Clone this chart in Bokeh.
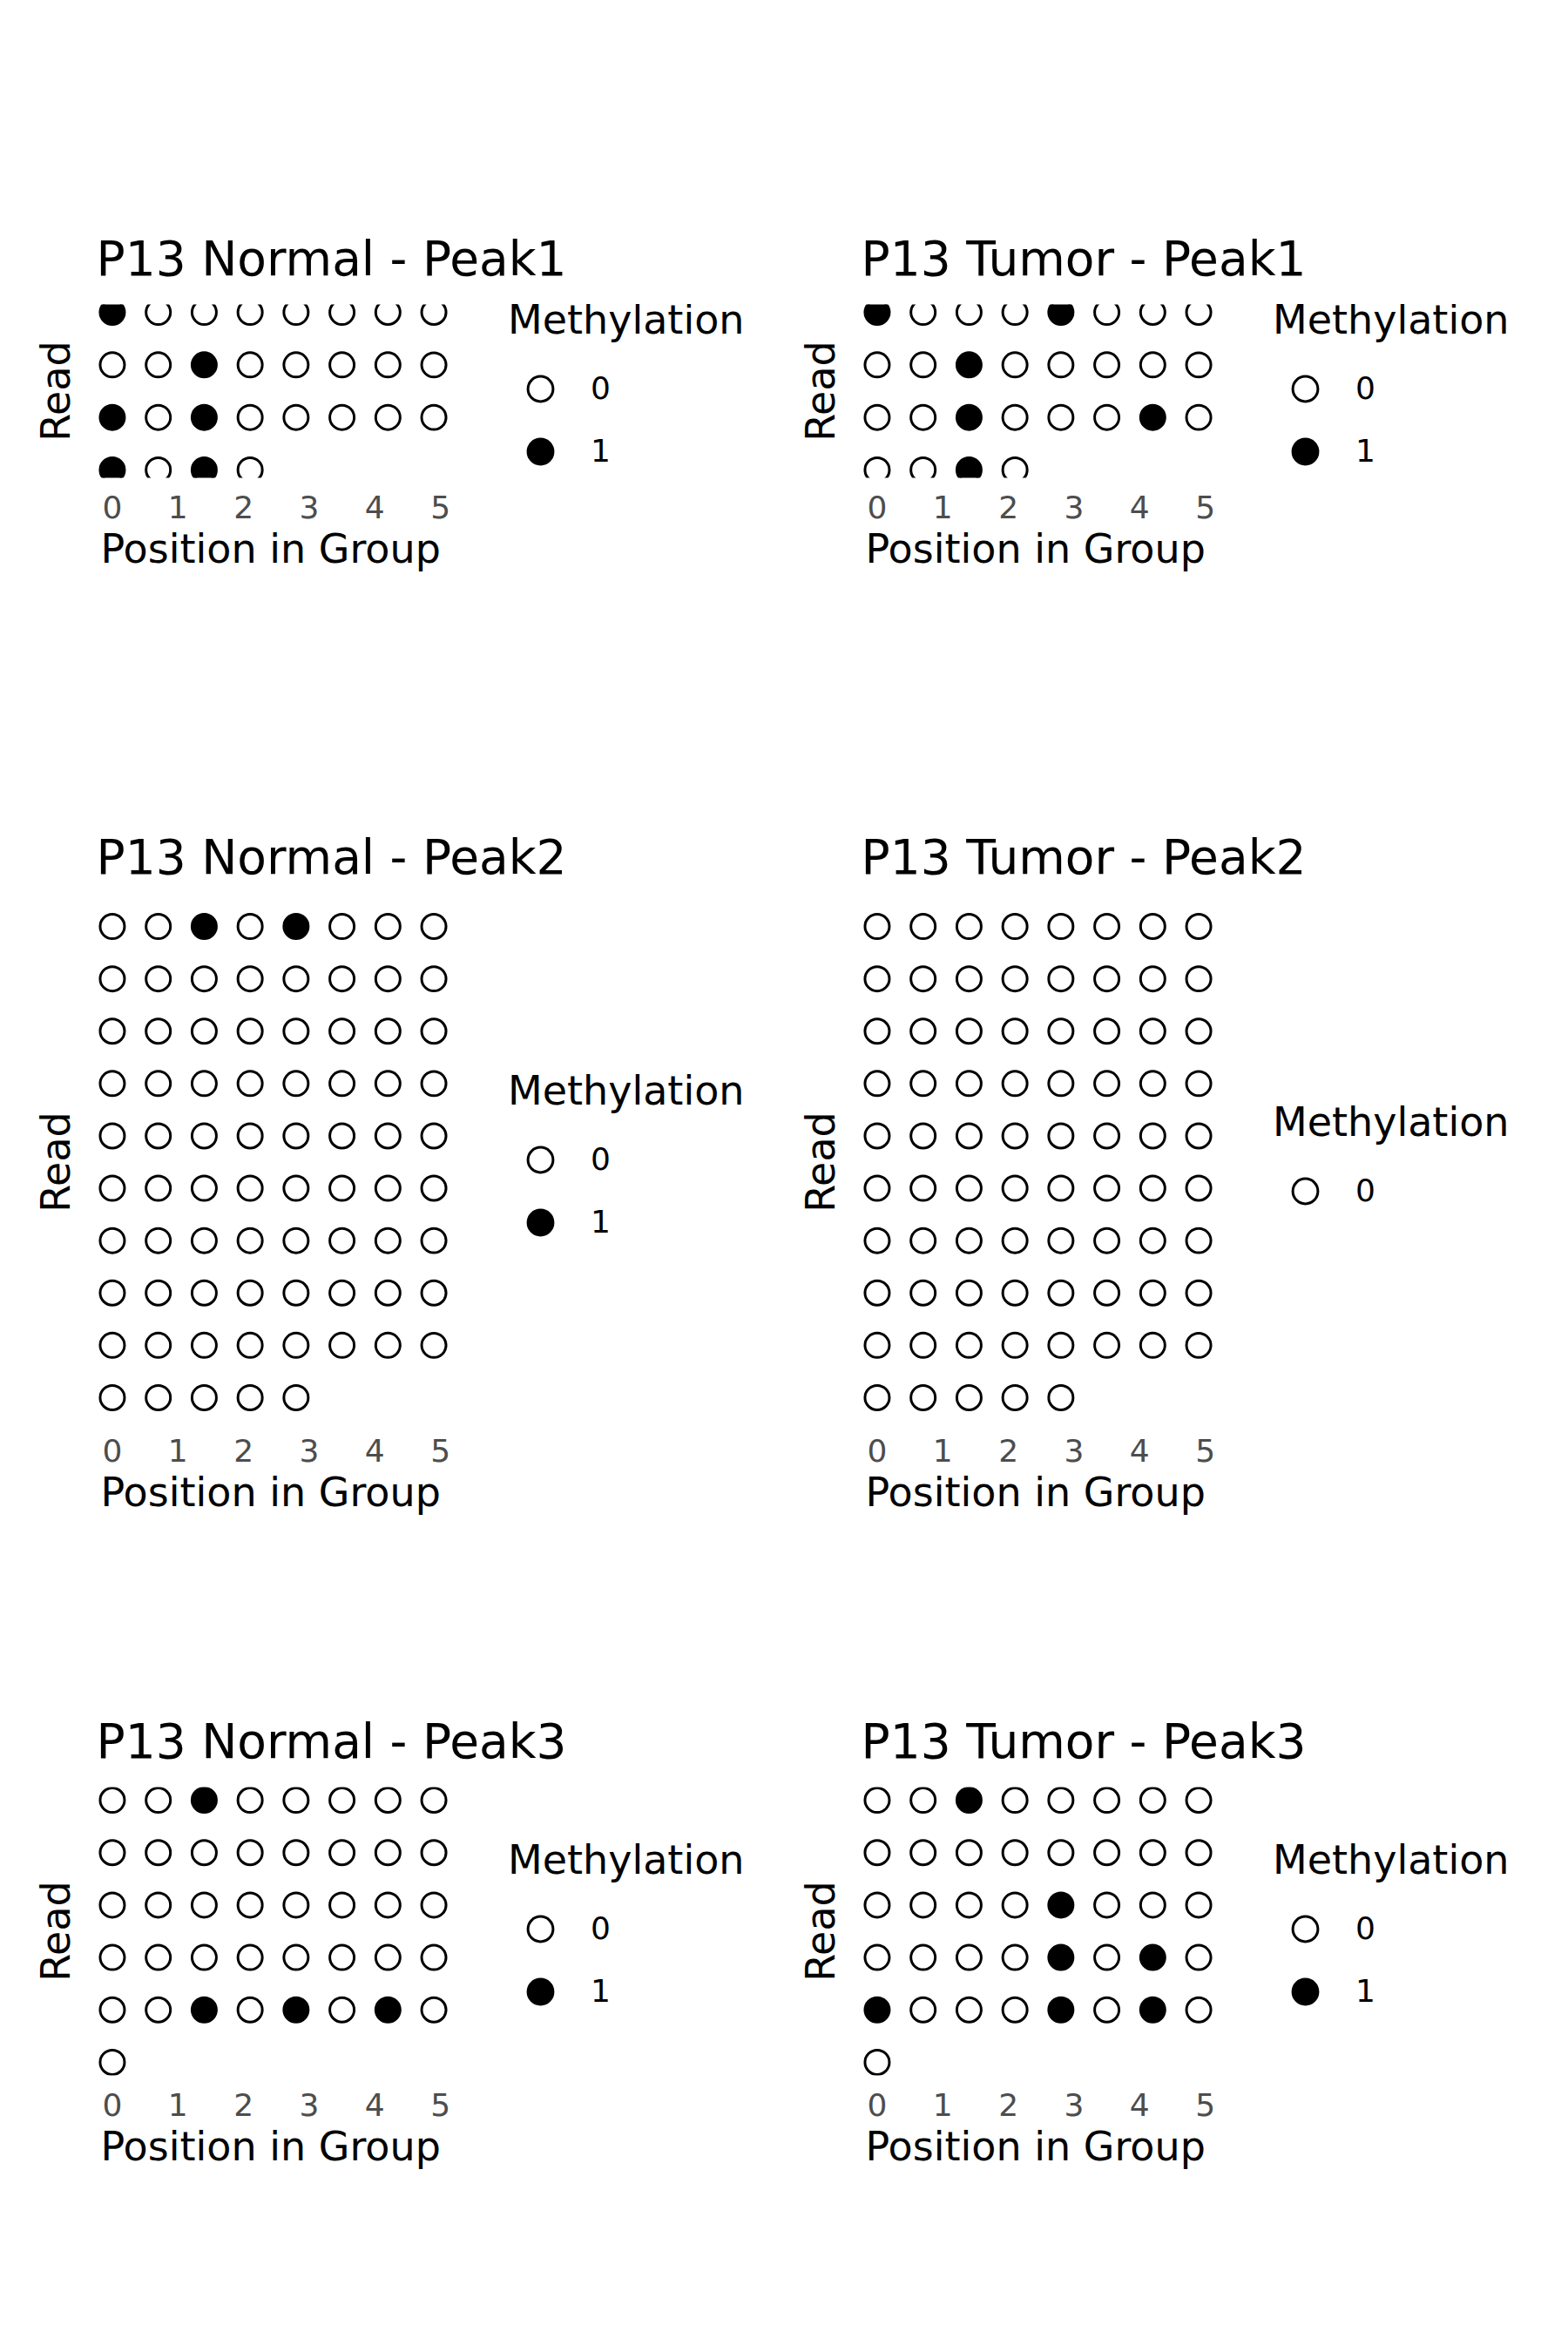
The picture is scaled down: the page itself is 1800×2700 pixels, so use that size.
from bokeh.plotting import figure
from bokeh.models import ColumnDataSource, Range1d, FixedTicker, Legend, LegendItem, Title
from bokeh.layouts import column, row
from bokeh.embed import file_html
from bokeh.resources import INLINE

# ---------------- data ----------------
positions = [0.0, 0.7, 1.4, 2.1, 2.8, 3.5, 4.2, 4.9]   # position in group of each CpG column
x_ticks = [0, 1, 2, 3, 4, 5]
methylation_levels = ["0", "1"]

normal_peak1 = [
    [1, 0, 0, 0, 0, 0, 0, 0],
    [0, 0, 1, 0, 0, 0, 0, 0],
    [1, 0, 1, 0, 0, 0, 0, 0],
    [1, 0, 1, 0],
]
tumor_peak1 = [
    [1, 0, 0, 0, 1, 0, 0, 0],
    [0, 0, 1, 0, 0, 0, 0, 0],
    [0, 0, 1, 0, 0, 0, 1, 0],
    [0, 0, 1, 0],
]
normal_peak2 = [
    [0, 0, 1, 0, 1, 0, 0, 0],
    [0, 0, 0, 0, 0, 0, 0, 0],
    [0, 0, 0, 0, 0, 0, 0, 0],
    [0, 0, 0, 0, 0, 0, 0, 0],
    [0, 0, 0, 0, 0, 0, 0, 0],
    [0, 0, 0, 0, 0, 0, 0, 0],
    [0, 0, 0, 0, 0, 0, 0, 0],
    [0, 0, 0, 0, 0, 0, 0, 0],
    [0, 0, 0, 0, 0, 0, 0, 0],
    [0, 0, 0, 0, 0],
]
tumor_peak2 = [
    [0, 0, 0, 0, 0, 0, 0, 0],
    [0, 0, 0, 0, 0, 0, 0, 0],
    [0, 0, 0, 0, 0, 0, 0, 0],
    [0, 0, 0, 0, 0, 0, 0, 0],
    [0, 0, 0, 0, 0, 0, 0, 0],
    [0, 0, 0, 0, 0, 0, 0, 0],
    [0, 0, 0, 0, 0, 0, 0, 0],
    [0, 0, 0, 0, 0, 0, 0, 0],
    [0, 0, 0, 0, 0, 0, 0, 0],
    [0, 0, 0, 0, 0],
]
normal_peak3 = [
    [0, 0, 1, 0, 0, 0, 0, 0],
    [0, 0, 0, 0, 0, 0, 0, 0],
    [0, 0, 0, 0, 0, 0, 0, 0],
    [0, 0, 0, 0, 0, 0, 0, 0],
    [0, 0, 1, 0, 1, 0, 1, 0],
    [0],
]
tumor_peak3 = [
    [0, 0, 1, 0, 0, 0, 0, 0],
    [0, 0, 0, 0, 0, 0, 0, 0],
    [0, 0, 0, 0, 1, 0, 0, 0],
    [0, 0, 0, 0, 1, 0, 1, 0],
    [1, 0, 0, 0, 1, 0, 1, 0],
    [0],
]

titles = [
    ["P13 Normal - Peak1", "P13 Tumor - Peak1"],
    ["P13 Normal - Peak2", "P13 Tumor - Peak2"],
    ["P13 Normal - Peak3", "P13 Tumor - Peak3"],
]
reads_grid = [
    [normal_peak1, tumor_peak1],
    [normal_peak2, tumor_peak2],
    [normal_peak3, tumor_peak3],
]

# ---------------- layout / style ----------------
FONT = "DejaVu Sans"
DOT_AREA_W = 406                 # width in px of the dotted area (data span + 5% padding)
frame_widths = [768, 812]        # frame also hosts the legend to the right of the dots
frame_heights = [199, 595, 331]
border_top = [349, 236, 201]
border_bottom = [252, 219, 310]
border_left = 110
LEGEND_GAP = 67


def make_panel(title, reads, fw, fh, bt, bb):
    n = len(reads)
    xs = {"0": [], "1": []}
    ys = {"0": [], "1": []}
    for r, read in enumerate(reads, start=1):
        for j, m in enumerate(read):
            xs[str(m)].append(positions[j])
            ys[str(m)].append(r)
    pad_y = 0.05 * (n - 1)
    pad_x = 0.05 * (positions[-1] - positions[0])
    x0 = positions[0] - pad_x
    units_per_px = (positions[-1] + pad_x - x0) / DOT_AREA_W
    p = figure(
        frame_width=fw, frame_height=fh,
        x_range=Range1d(x0, x0 + fw * units_per_px),
        y_range=Range1d(n + pad_y, 1 - pad_y),
        output_backend="svg", toolbar_location=None, title=title,
        min_border_left=border_left, min_border_right=0,
        min_border_top=bt, min_border_bottom=bb,
    )
    p.outline_line_color = None
    p.background_fill_color = "white"
    p.border_fill_color = "white"
    p.xgrid.visible = False
    p.ygrid.visible = False

    p.title.text_font = FONT
    p.title.text_font_size = "55px"
    p.title.text_font_style = "normal"
    p.title.text_color = "black"
    p.title.align = "left"
    p.title.standoff = 42

    xa = p.xaxis[0]
    xa.ticker = FixedTicker(ticks=x_ticks)
    xa.axis_line_color = None
    xa.major_tick_line_color = None
    xa.minor_tick_line_color = None
    xa.major_tick_out = 0
    xa.major_tick_in = 0
    xa.major_label_text_font = FONT
    xa.major_label_text_font_size = "36px"
    xa.major_label_text_color = "#4D4D4D"
    xa.major_label_standoff = 20
    xa.axis_label = None

    # x-axis title, left-aligned under the dotted area (centred on it)
    x_title = Title(text="Position in Group", align="left", offset=5,
                    vertical_align="top", standoff=10,
                    text_font=FONT, text_font_size="46px",
                    text_font_style="normal", text_color="black")
    p.add_layout(x_title, "below")

    ya = p.yaxis[0]
    ya.ticker = FixedTicker(ticks=[])
    ya.axis_line_color = None
    ya.major_tick_line_color = None
    ya.minor_tick_line_color = None
    ya.major_tick_out = 0
    ya.major_tick_in = 0
    ya.major_label_text_font_size = "0px"
    ya.axis_label = "Read"
    ya.axis_label_text_font = FONT
    ya.axis_label_text_font_size = "46px"
    ya.axis_label_text_font_style = "normal"
    ya.axis_label_text_color = "black"
    ya.axis_label_standoff = 20

    items = []
    fills = {"0": "white", "1": "black"}
    for lev in methylation_levels:
        if not xs[lev]:
            continue
        src = ColumnDataSource(dict(x=xs[lev], y=ys[lev]))
        r = p.scatter("x", "y", source=src, marker="circle", size=28,
                      fill_color=fills[lev], line_color="black", line_width=3)
        items.append(LegendItem(label=lev, renderers=[r]))

    vy = fh / 2 - (105 if len(items) == 2 else 69)
    legend = Legend(
        items=items, title="Methylation", location=(DOT_AREA_W + LEGEND_GAP, vy),
        orientation="vertical",
        title_text_font=FONT, title_text_font_size="46px",
        title_text_font_style="normal", title_text_color="black",
        title_standoff=16,
        label_text_font=FONT, label_text_font_size="36px", label_text_color="black",
        glyph_width=74, glyph_height=72, label_height=72, label_standoff=21,
        spacing=0, padding=0, margin=0,
        border_line_color=None, background_fill_alpha=0,
    )
    p.add_layout(legend, "center")
    return p


rows = []
for i in range(3):
    figs = []
    for j in range(2):
        figs.append(make_panel(titles[i][j], reads_grid[i][j], frame_widths[j],
                               frame_heights[i], border_top[i], border_bottom[i]))
    rows.append(row(*figs))

layout = column(*rows)
open("out.html", "w").write(file_html(layout, INLINE))
